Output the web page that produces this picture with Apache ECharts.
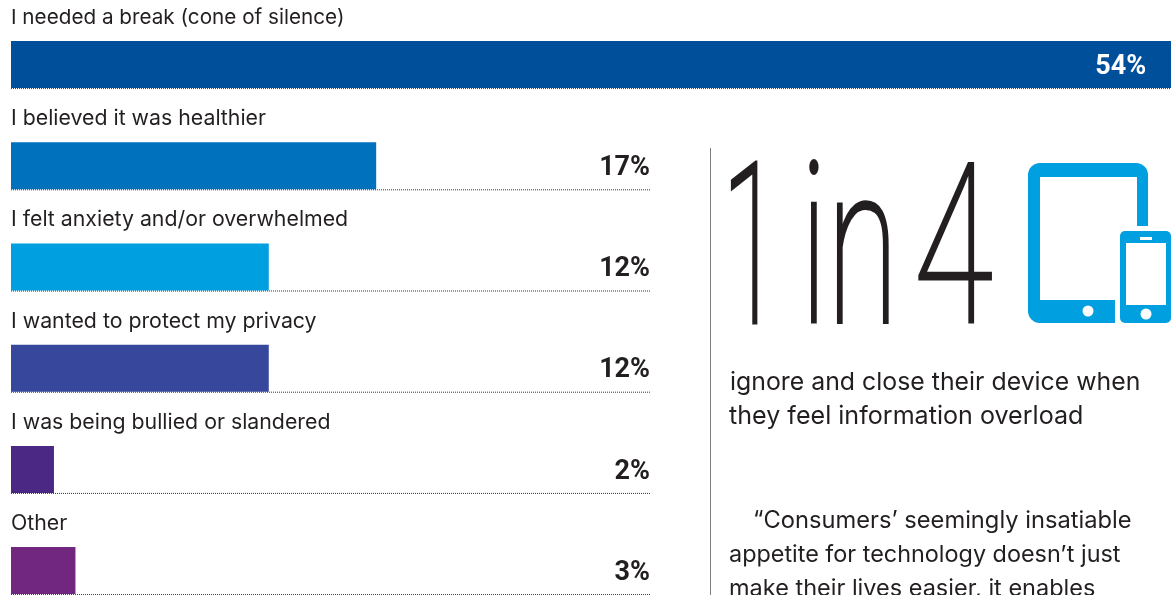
<!DOCTYPE html>
<html>
<head>
<meta charset="utf-8">
<style>html,body{margin:0;padding:0;background:#fff;overflow:hidden}#c{width:1173px;height:595px}</style>
<script src="https://cdn.jsdelivr.net/npm/echarts@6/dist/echarts.min.js"></script>
</head>
<body>
<div id="c"></div>
<script>
const categories = ['I needed a break (cone of silence)','I believed it was healthier','I felt anxiety and/or overwhelmed','I wanted to protect my privacy','I was being bullied or slandered','Other'];
const values = [54, 17, 12, 12, 2, 3];
const barColors = ['#004f9a','#0071bc','#009fdf','#37479b','#4a2884','#71277f'];
const rowEnds = [54, 29.75, 29.75, 29.75, 29.75, 29.75];
const labelEnds = [52.85, 29.75, 29.75, 29.75, 29.75, 29.75];
const calloutBig = ['1','in','4'];
const calloutLines = ['ignore and close their device when','they feel information overload'];
const quoteLines = ['“Consumers’ seemingly insatiable','appetite for technology doesn’t just','make their lives easier, it enables'];

const INK = '#231f20', CYAN = '#009fdf';
const FONT = 'Inter, Roboto, sans-serif';
const textG = (t,x,y,size) => ({type:'text',x,y,silent:true,style:{text:t,fill:INK,fontFamily:FONT,fontSize:size,verticalAlign:'middle'}});
const big = (t,x,sx,lw) => ({type:'text',x,y:155,scaleX:sx,scaleY:1,silent:true,style:{text:t,fill:INK,stroke:INK,lineWidth:lw,fontFamily:'Roboto',fontWeight:100,fontSize:223,verticalAlign:'top'}});

const chart = echarts.init(document.getElementById('c'),null,{renderer:'canvas'});
chart.setOption({
  animation:false,
  backgroundColor:'#fff',
  grid:{left:11,top:64.6,width:1160,height:506},
  xAxis:{type:'value',min:0,max:54,show:false},
  yAxis:{type:'category',inverse:true,boundaryGap:false,data:categories,show:false},
  series:[
    {
      type:'bar',
      clip:false,
      data:values.map((v,i)=>({value:v,itemStyle:{color:barColors[i]},label:{fontSize:i===0?20.7:21.3}})),
      barWidth:47,
      label:{show:true,position:[0,-34],formatter:p=>p.name,color:INK,fontFamily:FONT,fontSize:21.3}
    },
    {
      type:'custom',
      z:5,
      clip:false,
      coordinateSystem:'cartesian2d',
      encode:{x:0,y:1},
      data:categories.map((c,i)=>[rowEnds[i],i,labelEnds[i],values[i]]),
      renderItem:(params,api)=>{
        const end = api.coord([api.value(0),api.value(1)]);
        const lab = api.coord([api.value(2),api.value(1)]);
        const start = api.coord([0,api.value(1)]);
        const y = end[1]+24;
        const inside = api.value(2) < api.value(3);
        return {type:'group',children:[
          {type:'line',shape:{x1:start[0],y1:y,x2:end[0],y2:y},style:{stroke:'#333',lineWidth:1,lineDash:[1,1]}},
          {type:'text',x:lab[0],y:end[1]+2.5,style:{text:api.value(3)+'%',fill:inside?'#fff':INK,fontFamily:'Roboto',fontWeight:700,fontSize:27,align:'right',verticalAlign:'middle'}}
        ]};
      }
    }
  ],
  graphic:{elements:[
    {type:'line',silent:true,shape:{x1:710.5,y1:148,x2:710.5,y2:595},style:{stroke:'#808080',lineWidth:1}},
    big(calloutBig[0],722.5,0.47,5),
    big(calloutBig[1],800.5,0.58,4),
    big(calloutBig[2],913.5,0.65,3),
    {type:'rect',silent:true,shape:{x:1028,y:163,width:120,height:160,r:12},style:{fill:CYAN}},
    {type:'rect',silent:true,shape:{x:1040,y:177,width:97,height:123},style:{fill:'#fff'}},
    {type:'rect',silent:true,shape:{x:1115,y:226,width:35,height:99},style:{fill:'#fff'}},
    {type:'circle',silent:true,shape:{cx:1088,cy:311,r:5.5},style:{fill:'#fff'}},
    {type:'rect',silent:true,shape:{x:1120,y:231,width:51,height:92,r:5},style:{fill:CYAN}},
    {type:'rect',silent:true,shape:{x:1126,y:243,width:40,height:62},style:{fill:'#fff'}},
    {type:'rect',silent:true,shape:{x:1140,y:237,width:12,height:3},style:{fill:'#fff'}},
    {type:'circle',silent:true,shape:{cx:1146,cy:314,r:5.5},style:{fill:'#fff'}},
    textG(calloutLines[0],730,382.5,24.85),
    textG(calloutLines[1],729,416.5,25.1),
    textG(quoteLines[0],753,521,23.7),
    textG(quoteLines[1],729,555,23.4),
    textG(quoteLines[2],729,589,23.5)
  ]}
});
</script>
</body>
</html>
